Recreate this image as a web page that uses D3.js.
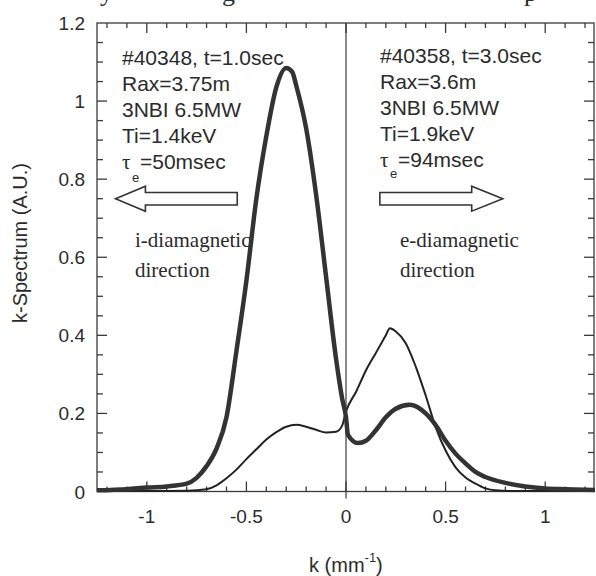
<!DOCTYPE html>
<meta charset="utf-8">
<style>
  body { margin: 0; background: #fff; }
  svg text { fill: #2b2b2b; }
  .tick-label { font: 19px "Liberation Sans", Arial, sans-serif; }
  .axis-title { font: 20px "Liberation Sans", Arial, sans-serif; }
  .note { font: 21px "Liberation Sans", Arial, sans-serif; }
  .serif { font: 21px "Liberation Serif", "Times New Roman", serif; }
</style>
<body>
<script src="https://d3js.org/d3.v7.min.js"></script>
<script>
// k values (mm^-1) and the two spectra
var kThick = [-1.25, -1.1, -1.0, -0.9, -0.8, -0.75, -0.7, -0.65, -0.6, -0.55, -0.5, -0.45, -0.4, -0.35,
              -0.3, -0.27, -0.25, -0.2, -0.15, -0.1, -0.05, -0.02, 0, 0.01, 0.06, 0.1, 0.15, 0.2, 0.25,
              0.32, 0.4, 0.45, 0.5, 0.55, 0.6, 0.65, 0.7, 0.8, 0.9, 1.0, 1.1, 1.25];
var sThick = [0.003, 0.006, 0.01, 0.013, 0.02, 0.035, 0.065, 0.11, 0.19, 0.36, 0.54, 0.75, 0.91, 1.035,
              1.085, 1.075, 1.04, 0.93, 0.76, 0.55, 0.34, 0.24, 0.19, 0.145, 0.124, 0.13, 0.157, 0.19, 0.212,
              0.222, 0.2, 0.17, 0.13, 0.097, 0.072, 0.05, 0.037, 0.022, 0.013, 0.008, 0.006, 0.004];

var kThin = [-1.25, -1.0, -0.8, -0.7, -0.65, -0.6, -0.55, -0.5, -0.45, -0.4, -0.35, -0.3, -0.25, -0.2,
             -0.15, -0.1, -0.05, -0.02, 0, 0.05, 0.1, 0.15, 0.2, 0.22, 0.25, 0.3, 0.35, 0.4, 0.45, 0.5,
             0.55, 0.6, 0.65, 0.7, 0.75, 0.85, 1.0, 1.25];
var sThin = [0.001, 0.001, 0.002, 0.006, 0.016, 0.034, 0.056, 0.083, 0.108, 0.133, 0.152, 0.166, 0.171, 0.166,
             0.158, 0.151, 0.153, 0.168, 0.205, 0.255, 0.31, 0.355, 0.4, 0.418, 0.41, 0.38, 0.32, 0.246, 0.165, 0.105,
             0.062, 0.036, 0.02, 0.008, 0.003, 0.001, 0.001, 0.001];

var xTicks = [-1, -0.5, 0, 0.5, 1];
var yTicks = [0, 0.2, 0.4, 0.6, 0.8, 1, 1.2];

var leftNote = ["#40348, t=1.0sec", "Rax=3.75m", "3NBI 6.5MW", "Ti=1.4keV"];
var rightNote = ["#40358, t=3.0sec", "Rax=3.6m", "3NBI 6.5MW", "Ti=1.9keV"];

var W = 596, H = 576;
var margin = {top: 23, right: 1, bottom: 85, left: 97};

var svg = d3.select("body").append("svg")
    .attr("width", W)
    .attr("height", H);

// scales
var x = d3.scaleLinear().domain([-1.25, 1.25]).range([margin.left, W - margin.right]);
var y = d3.scaleLinear().domain([0, 1.2]).range([H - margin.bottom + 0.5, margin.top]);

// clipped fragments of the caption line above the figure
svg.append("g").attr("class", "serif").style("font-size", "26px")
  .selectAll("text").data([["y", 100], ["g", 222], ["p", 524]]).enter().append("text")
    .attr("x", function(d) { return d[1]; })
    .attr("y", 1)
    .text(function(d) { return d[0]; });

// plot frame with inward ticks
var frame = svg.append("g")
    .attr("stroke", "#3a3a3a")
    .attr("stroke-width", 1.3)
    .attr("fill", "none");

frame.append("rect")
    .attr("x", x(-1.25)).attr("y", y(1.2))
    .attr("width", x(1.25) - x(-1.25) - 1)
    .attr("height", y(0) - y(1.2));

var xMinor = d3.range(-12, 13).map(function(i) { return i / 10; });
var yMinor = d3.range(1, 24).map(function(i) { return i / 20; });
function isMajorX(d) { return Math.abs(d * 2 - Math.round(d * 2)) < 1e-6; }
function isMajorY(d) { return Math.abs(d * 5 - Math.round(d * 5)) < 1e-6; }

var tickPts = [];
xMinor.forEach(function(d) {
  var len = isMajorX(d) ? 10 : 5;
  tickPts.push([x(d), y(0), x(d), y(0) - len]);
  tickPts.push([x(d), y(1.2), x(d), y(1.2) + len]);
});
yMinor.forEach(function(d) {
  var len = isMajorY(d) ? 10 : 6;
  tickPts.push([x(-1.25), y(d), x(-1.25) + len, y(d)]);
  tickPts.push([x(1.25) - 1, y(d), x(1.25) - 1 - len, y(d)]);
});
frame.selectAll("line.tk").data(tickPts).enter().append("line")
    .attr("class", "tk")
    .attr("x1", function(d) { return d[0]; })
    .attr("y1", function(d) { return d[1]; })
    .attr("x2", function(d) { return d[2]; })
    .attr("y2", function(d) { return d[3]; });

// vertical line at k = 0
frame.append("line")
    .attr("x1", x(0)).attr("x2", x(0))
    .attr("y1", y(1.2)).attr("y2", y(0) + 7)
    .attr("stroke-width", 1.2);

// tick labels
svg.selectAll(".xlab").data(xTicks).enter().append("text")
    .attr("class", "tick-label")
    .attr("x", function(d) { return x(d); })
    .attr("y", y(0) + 31)
    .attr("text-anchor", "middle")
    .text(function(d) { return d; });
svg.selectAll(".ylab").data(yTicks).enter().append("text")
    .attr("class", "tick-label")
    .attr("x", x(-1.25) - 12)
    .attr("y", function(d) { return y(d) + 7; })
    .attr("text-anchor", "end")
    .text(function(d) { return d; });

// axis titles
var xt = svg.append("text").attr("class", "axis-title")
    .attr("x", 309).attr("y", 572);
xt.append("tspan").text("k (mm");
xt.append("tspan").attr("dy", -10).style("font-size", "13px").text("-1");
xt.append("tspan").attr("dy", 10).text(")");

svg.append("text").attr("class", "axis-title")
    .attr("transform", "translate(27," + 243 + ") rotate(-90)")
    .attr("text-anchor", "middle")
    .text("k-Spectrum (A.U.)");

// spectra
var line = d3.line()
    .x(function(d) { return x(d[0]); })
    .y(function(d) { return y(d[1]); })
    .curve(d3.curveMonotoneX);

svg.append("path")
    .datum(d3.zip(kThin, sThin))
    .attr("d", line)
    .attr("fill", "none")
    .attr("stroke", "#222")
    .attr("stroke-width", 2);

svg.append("path")
    .datum(d3.zip(kThick, sThick))
    .attr("d", line)
    .attr("fill", "none")
    .attr("stroke", "#333")
    .attr("stroke-width", 4.5)
    .attr("stroke-linejoin", "round");

// parameter notes
function note(lines, px, py, tauVal, tauY) {
  lines.forEach(function(t, i) {
    svg.append("text").attr("class", "note")
        .attr("x", px).attr("y", py + i * 26)
        .text(t);
  });
  var by = py + 4 * 26;
  svg.append("text").attr("class", "serif")
      .attr("x", px).attr("y", by).text("\u03c4");
  svg.append("text").attr("class", "note").style("font-size", "13px")
      .attr("x", px + 10).attr("y", tauY).text("e");
  svg.append("text").attr("class", "note")
      .attr("x", px + 18).attr("y", by).text(tauVal);
}
note(leftNote, 122, 65, "=50msec", 182);
note(rightNote, 380, 63, "=94msec", 178);

// hollow arrows for drift directions
function arrow(tip, base, tail, yc) {
  var hh = 0.032, bh = 0.016;
  var pts = [[tip, yc], [base, yc + hh], [base, yc + bh], [tail, yc + bh],
             [tail, yc - bh], [base, yc - bh], [base, yc - hh]];
  svg.append("path")
      .attr("d", "M" + pts.map(function(p) { return x(p[0]) + "," + y(p[1]); }).join("L") + "Z")
      .attr("fill", "#fff")
      .attr("stroke", "#333")
      .attr("stroke-width", 1.6);
}
arrow(-1.157, -1.007, -0.546, 0.75);
arrow(0.787, 0.631, 0.17, 0.75);

svg.append("text").attr("class", "serif").attr("x", 135).attr("y", 247).text("i-diamagnetic");
svg.append("text").attr("class", "serif").attr("x", 135).attr("y", 277).text("direction");
svg.append("text").attr("class", "serif").attr("x", 400).attr("y", 247).text("e-diamagnetic");
svg.append("text").attr("class", "serif").attr("x", 400).attr("y", 277).text("direction");
</script>
</body>
